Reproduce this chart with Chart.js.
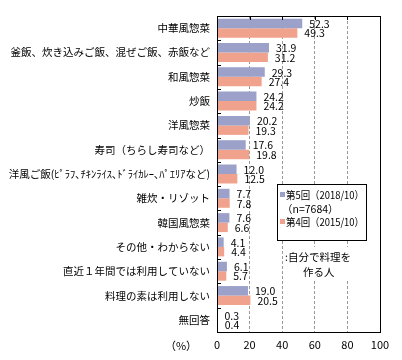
<!DOCTYPE html>
<html>
<head>
<meta charset="utf-8">
<script src="https://cdn.jsdelivr.net/npm/chart.js@4/dist/chart.umd.min.js"></script>
<style>
  html, body { margin: 0; padding: 0; background: #fff; }
  #wrap { width: 402px; height: 360px; }
</style>
</head>
<body>
<div id="wrap"><canvas id="chart" width="402" height="360"></canvas></div>
<script>
const categories = [
  '中華風惣菜',
  '釜飯、炊き込みご飯、混ぜご飯、赤飯など',
  '和風惣菜',
  '炒飯',
  '洋風惣菜',
  '寿司（ちらし寿司など）',
  '洋風ご飯(ﾋﾟﾗﾌ､ﾁｷﾝﾗｲｽ､ﾄﾞﾗｲｶﾚｰ､ﾊﾟｴﾘｱなど)',
  '雑炊・リゾット',
  '韓国風惣菜',
  'その他・わからない',
  '直近１年間では利用していない',
  '料理の素は利用しない',
  '無回答'
];
const survey5 = [52.3, 31.9, 29.3, 24.2, 20.2, 17.6, 12.0, 7.7, 7.6, 4.1, 6.1, 19.0, 0.3];
const survey4 = [49.3, 31.2, 27.4, 24.2, 19.3, 19.8, 12.5, 7.8, 6.6, 4.4, 5.7, 20.5, 0.4];
const xTicks = [0, 20, 40, 60, 80, 100];
const legendLines = ['第5回（2018/10）', '（n=7684）', '第4回（2015/10）'];
const noteLines = [':自分で料理を', '作る人'];

const FONT = '"Noto Sans CJK JP", "Noto Sans", sans-serif';
const BLUE = '#9BA1C9';
const SALMON = '#F0A28C';

//枠・目盛・ラベル・凡例を描く
const decorations = {
  id: 'decorations',
  afterDraw(chart) {
    const ctx = chart.ctx;
    const area = chart.chartArea;
    const x = chart.scales.x;
    ctx.save();

    // 外枠
    ctx.strokeStyle = '#000';
    ctx.lineWidth = 1;
    ctx.strokeRect(Math.round(area.left) + 0.5, Math.round(area.top) + 0.5,
      Math.round(area.right - area.left), Math.round(area.bottom - area.top));

    // 内向きの目盛
    ctx.beginPath();
    xTicks.forEach(v => {
      const px = Math.round(x.getPixelForValue(v)) + 0.5;
      ctx.moveTo(px, area.top);
      ctx.lineTo(px, area.top + 4);
    });
    const step = (area.bottom - area.top) / categories.length;
    for (let i = 1; i < categories.length; i++) {
      const py = Math.round(area.top + step * i) + 0.5;
      ctx.moveTo(area.left, py);
      ctx.lineTo(area.left + 4, py);
    }
    ctx.stroke();

    // データラベル
    ctx.fillStyle = '#000';
    ctx.font = '10.5px ' + FONT;
    ctx.textAlign = 'left';
    ctx.textBaseline = 'middle';
    chart.data.datasets.forEach((ds, di) => {
      chart.getDatasetMeta(di).data.forEach((bar, i) => {
        ctx.fillText(ds.data[i].toFixed(1), bar.x + 7, bar.y + 0.5);
      });
    });

    // (%)
    ctx.textAlign = 'center';
    ctx.font = '11px ' + FONT;
    ctx.fillText('（%）', 181, 346);

    // 凡例
    const lx = 277, ly = 184, lw = 89, lh = 56;
    ctx.fillStyle = '#fff';
    ctx.fillRect(lx, ly, lw, lh);
    ctx.strokeStyle = '#000';
    ctx.strokeRect(lx + 0.5, ly + 0.5, lw, lh);
    ctx.font = '10.5px ' + FONT;
    ctx.textAlign = 'left';
    ctx.fillStyle = BLUE;
    ctx.fillRect(280, 192, 5, 5);
    ctx.fillStyle = SALMON;
    ctx.fillRect(280, 219, 5, 5);
    ctx.fillStyle = '#000';
    ctx.fillText(legendLines[0], 286, 195, 78);
    ctx.fillText(legendLines[1], 282, 209, 60);
    ctx.fillText(legendLines[2], 286, 222, 78);

    // 注記
    ctx.fillStyle = '#fff';
    ctx.fillRect(285, 247, 76, 33);
    ctx.fillStyle = '#000';
    ctx.fillText(noteLines[0], 285, 257);
    ctx.fillText(noteLines[1], 303, 272);

    ctx.restore();
  }
};

new Chart(document.getElementById('chart').getContext('2d'), {
  type: 'bar',
  data: {
    labels: categories,
    datasets: [
      { label: legendLines[0], data: survey5, backgroundColor: BLUE },
      { label: legendLines[2], data: survey4, backgroundColor: SALMON }
    ]
  },
  options: {
    indexAxis: 'y',
    responsive: false,
    animation: false,
    layout: { padding: { top: 16, right: 22, left: 0, bottom: 0 } },
    datasets: { bar: { categoryPercentage: 0.78, barPercentage: 1.0 } },
    plugins: { legend: { display: false }, tooltip: { enabled: false } },
    scales: {
      x: {
        min: 0,
        max: 100,
        ticks: {
          stepSize: 20,
          padding: 6,
          color: '#000',
          font: { family: FONT, size: 11 }
        },
        grid: {
          drawTicks: false,
          color: c => (c.tick && c.tick.value > 0 && c.tick.value < 100) ? '#999' : 'rgba(0,0,0,0)'
        },
        border: { display: false, dash: [3, 2] },
        afterFit: s => { s.height = 28; }
      },
      y: {
        ticks: {
          padding: 7,
          color: '#000',
          autoSkip: false,
          font: { family: FONT, size: 10.5 }
        },
        grid: { display: false, drawTicks: false },
        border: { display: false },
        afterFit: s => { s.width = 217; }
      }
    }
  },
  plugins: [decorations]
});
</script>
</body>
</html>
